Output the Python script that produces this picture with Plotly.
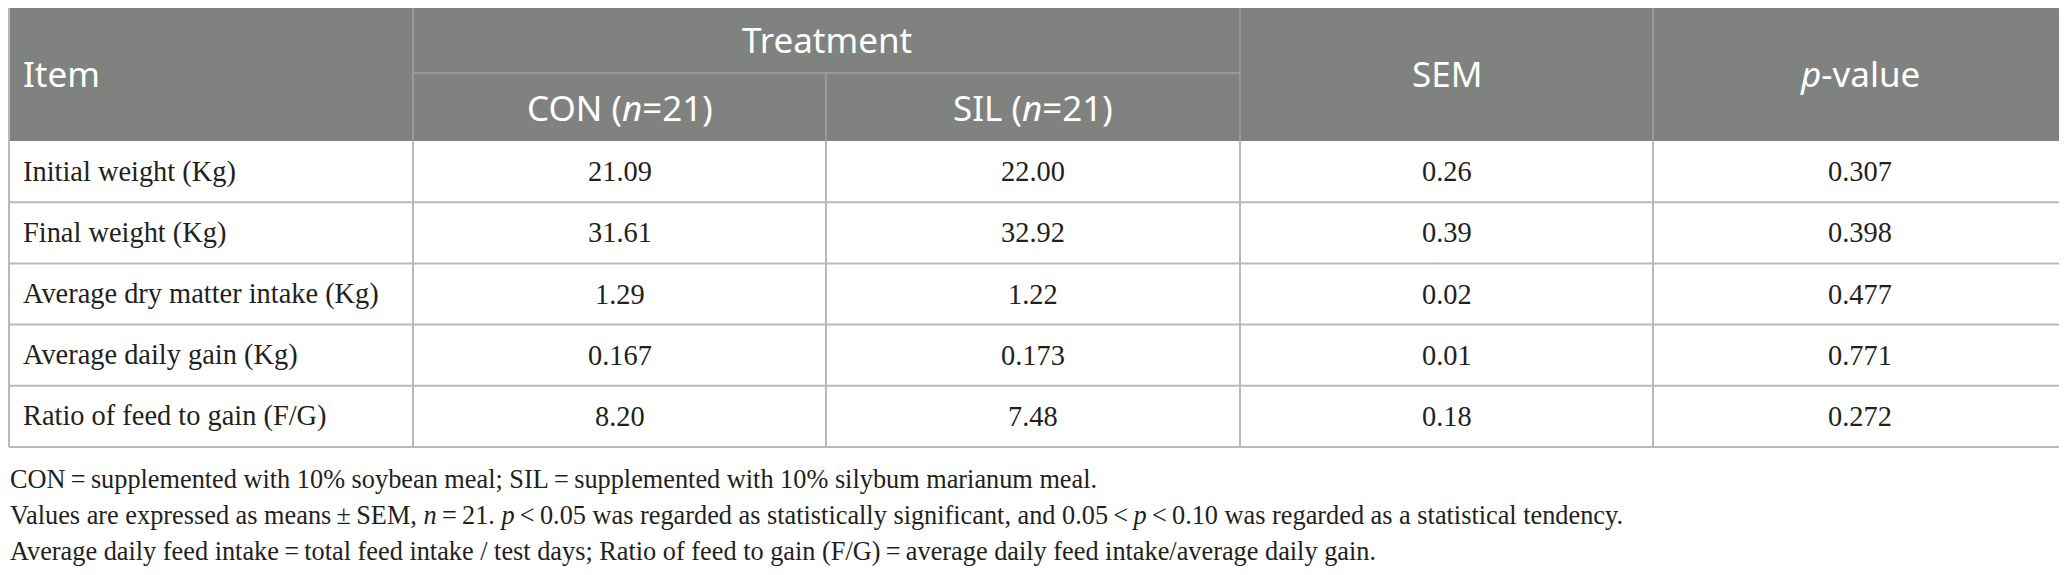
import plotly.graph_objects as go

# Données du tableau
items = [
    "Initial weight (Kg)",
    "Final weight (Kg)",
    "Average dry matter intake (Kg)",
    "Average daily gain (Kg)",
    "Ratio of feed to gain (F/G)",
]
con_values = ["21.09", "31.61", "1.29", "0.167", "8.20"]
sil_values = ["22.00", "32.92", "1.22", "0.173", "7.48"]
sem_values = ["0.26", "0.39", "0.02", "0.01", "0.18"]
p_values = ["0.307", "0.398", "0.477", "0.771", "0.272"]

group_label = "Treatment"
header_labels = ["Item", "CON (<i>n</i>=21)", "SIL (<i>n</i>=21)", "SEM", "<i>p</i>-value"]

footnotes = [
    "CON\u2009=\u2009supplemented with 10% soybean meal; SIL\u2009=\u2009supplemented with 10% silybum marianum meal.",
    "Values are expressed as means\u2009±\u2009SEM, <i>n</i>\u2009=\u200921. <i>p</i>\u2009&lt;\u20090.05 was regarded as "
    "statistically significant, and 0.05\u2009&lt;\u2009<i>p</i>\u2009&lt;\u20090.10 was regarded as a statistical tendency.",
    "Average daily feed intake\u2009=\u2009total feed intake / test days; Ratio of feed to gain (F/G)\u2009=\u2009"
    "average daily feed intake/average daily gain.",
]

# Géométrie (pixels de la page) ; la page HTML a une marge de 8 px
W, H = 2067, 575
PAGE_MARGIN = 8
col_edges = [9, 413, 826, 1240, 1653, 2066]
head_top, head_mid, head_bot = 5, 73, 141
row_h = 61.2
foot_x, foot_y0, foot_dy = 8, 479, 36

HEAD_BG = "rgb(128,130,128)"
HEAD_LINE = "rgb(160,162,160)"
GRID = "rgb(185,185,185)"
TXT = "#231f20"

fig = go.Figure()
shapes = []
annotations = []


def line(x0, y0, x1, y1, color, w=1.5):
    shapes.append(dict(type="line", x0=x0, y0=y0, x1=x1, y1=y1,
                       xref="x", yref="y", line=dict(color=color, width=w)))


# Fond de l'en-tête
shapes.append(dict(type="rect", x0=col_edges[0], x1=col_edges[-1], y0=head_top, y1=head_bot,
                   xref="x", yref="y", fillcolor=HEAD_BG, line=dict(width=0), layer="below"))

# Lignes de l'en-tête
line(col_edges[0], head_top, col_edges[-1], head_top, GRID, 2)
line(col_edges[1], head_mid, col_edges[3], head_mid, HEAD_LINE)
for x in (col_edges[1], col_edges[3], col_edges[4]):
    line(x, head_top, x, head_bot, HEAD_LINE)
line(col_edges[2], head_mid, col_edges[2], head_bot, HEAD_LINE)

# Grille du corps
n_rows = len(items)
row_edges = [head_bot + i * row_h for i in range(n_rows + 1)]
for y in row_edges[1:]:
    line(col_edges[0], y, col_edges[-1], y, GRID, 2)
for x in col_edges:
    line(x, head_bot, x, row_edges[-1], GRID, 2)
line(col_edges[0], head_top, col_edges[0], head_bot, GRID, 2)
line(col_edges[-1], head_top, col_edges[-1], head_bot, GRID, 2)

head_font = dict(family="Noto Sans", size=35, color="white")
body_font = dict(family="Liberation Serif", size=28.4, color=TXT)
foot_font = dict(family="Liberation Serif", size=26.3, color=TXT)


def text(x, y, s, font, anchor="center"):
    annotations.append(dict(x=x, y=y, xref="x", yref="y", text=s, showarrow=False,
                            xanchor=anchor, yanchor="middle", font=font))


def mid(a, b):
    return (a + b) / 2


# Textes de l'en-tête
text(21, mid(head_top, head_bot), header_labels[0], head_font, "left")
text(mid(col_edges[1], col_edges[3]), mid(head_top, head_mid), group_label, head_font)
text(mid(col_edges[1], col_edges[2]), mid(head_mid, head_bot), header_labels[1], head_font)
text(mid(col_edges[2], col_edges[3]), mid(head_mid, head_bot), header_labels[2], head_font)
text(mid(col_edges[3], col_edges[4]), mid(head_top, head_bot), header_labels[3], head_font)
text(mid(col_edges[4], col_edges[5]), mid(head_top, head_bot), header_labels[4], head_font)

# Textes du corps
columns = [con_values, sil_values, sem_values, p_values]
for i, item in enumerate(items):
    yc = mid(row_edges[i], row_edges[i + 1])
    text(21, yc, item, body_font, "left")
    for j, col in enumerate(columns):
        text(mid(col_edges[j + 1], col_edges[j + 2]), yc, col[i], body_font)

# Notes de bas de tableau
for k, note in enumerate(footnotes):
    text(foot_x, foot_y0 + k * foot_dy, note, foot_font, "left")

fig.update_layout(
    width=W - PAGE_MARGIN, height=H - PAGE_MARGIN,
    margin=dict(l=0, r=0, t=0, b=0),
    paper_bgcolor="white", plot_bgcolor="white",
    xaxis=dict(range=[PAGE_MARGIN, W], visible=False, fixedrange=True),
    yaxis=dict(range=[H, PAGE_MARGIN], visible=False, fixedrange=True),
    shapes=shapes, annotations=annotations,
    showlegend=False,
)

fig.write_html("out.html")
